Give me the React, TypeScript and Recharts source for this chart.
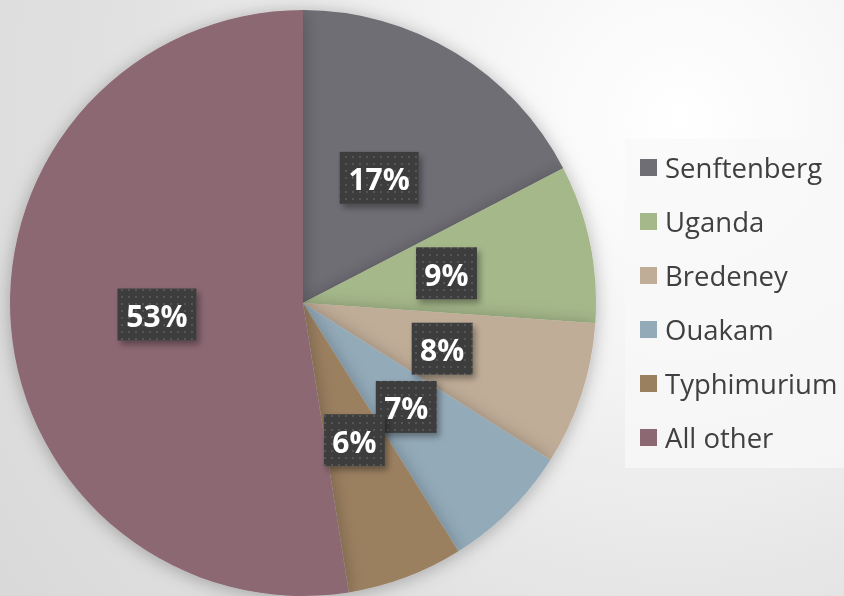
import { PieChart, Pie, Cell, Legend } from 'recharts'

const names = ['Senftenberg', 'Uganda', 'Bredeney', 'Ouakam', 'Typhimurium', 'All other']
const shares = [17.4, 8.7, 7.9, 7.1, 6.4, 52.5]
const COLORS = ['#6f6e75', '#a5b88a', '#c0ad98', '#93aab9', '#9b8060', '#8c6873']

const data = names.map((name, i) => ({ name, value: shares[i] }))

const RAD = Math.PI / 180

function Label(props: any) {
  const { cx, cy, midAngle, outerRadius, percent } = props
  const r = outerRadius * 0.5
  const x = cx + r * Math.cos(-midAngle * RAD)
  const y = cy + r * Math.sin(-midAngle * RAD)
  const text = `${Math.round(percent * 100)}%`
  const w = text.length > 2 ? 79 : 61
  const h = 52
  return (
    <g>
      <rect
        x={x - w / 2}
        y={y - h / 2}
        width={w}
        height={h}
        fill="url(#dots)"
        filter="url(#boxShadow)"
      />
      <text
        x={x}
        y={y + 1}
        textAnchor="middle"
        dominantBaseline="central"
        fill="#ffffff"
        fontFamily="'Open Sans', sans-serif"
        fontWeight={700}
        fontSize={30}
      >
        {text}
      </text>
    </g>
  )
}

// legend drawn in the original series order
function LegendBox() {
  return (
    <div
      style={{
        background: 'rgba(248,248,248,0.75)',
        width: 219,
        height: 329,
        boxSizing: 'border-box',
        paddingTop: 1,
        paddingLeft: 15,
      }}
    >
      {names.map((n, i) => (
        <div
          key={n}
          style={{ display: 'flex', alignItems: 'center', height: 54, fontFamily: "'Open Sans', sans-serif", fontSize: 27.5, color: '#404040', whiteSpace: 'nowrap' }}
        >
          <span style={{ width: 17, height: 17, background: COLORS[i], marginRight: 8, display: 'inline-block', flex: 'none' }} />
          {n}
        </div>
      ))}
    </div>
  )
}

export default function App() {
  return (
    <div
      style={{
        position: 'fixed',
        left: 0,
        top: 0,
        width: 844,
        height: 596,
        background: 'radial-gradient(circle at 680px 120px, #ffffff 0%, #f4f4f4 30%, #e2e2e2 65%, #d9d9d9 100%)',
        overflow: 'hidden',
      }}
    >
      <svg width={0} height={0} style={{ position: 'absolute' }}>
        <defs>
          <pattern id="dots" width={7} height={7} patternUnits="userSpaceOnUse">
            <rect width={7} height={7} fill="#3e3e3e" />
            <rect x={2} y={2} width={2} height={2} fill="#565656" />
          </pattern>
          <filter id="boxShadow" x="-20%" y="-20%" width="150%" height="160%">
            <feDropShadow dx={3} dy={4} stdDeviation={3} floodColor="#000" floodOpacity={0.35} />
          </filter>
          <filter id="pieShadow" x="-10%" y="-10%" width="120%" height="120%">
            <feDropShadow dx={0} dy={2} stdDeviation={9} floodColor="#000" floodOpacity={0.28} />
          </filter>
        </defs>
      </svg>
      <PieChart width={844} height={596} margin={{ top: 0, right: 0, bottom: 0, left: 0 }}>
        <Pie
          data={data}
          dataKey="value"
          nameKey="name"
          cx={303}
          cy={303}
          outerRadius={293}
          startAngle={90}
          endAngle={-270}
          stroke="none"
          label={Label}
          labelLine={false}
          isAnimationActive={false}
          style={{ filter: 'url(#pieShadow)' }}
        >
          {data.map((_, i) => (
            <Cell key={i} fill={COLORS[i]} />
          ))}
        </Pie>
        <Legend
          content={<LegendBox />}
          wrapperStyle={{ position: 'absolute', left: 625, top: 139, width: 219, height: 329 }}
        />
      </PieChart>
    </div>
  )
}
